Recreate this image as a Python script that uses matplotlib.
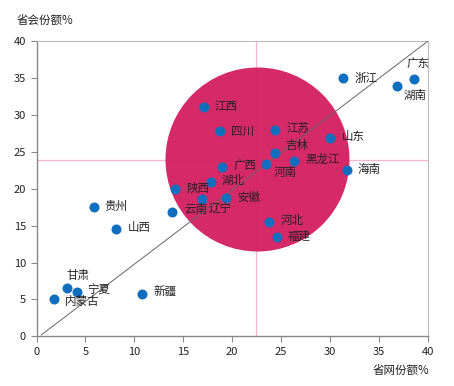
import matplotlib
matplotlib.use("Agg")
import matplotlib.pyplot as plt

plt.rcParams['font.family'] = ['Noto Sans CJK SC', 'DejaVu Sans']

provinces = ['广东', '湖南', '浙江', '江西', '四川', '江苏', '吉林', '河南', '黑龙江', '山东',
             '海南', '广西', '湖北', '陕西', '辽宁', '安徽', '云南', '河北', '福建', '贵州',
             '山西', '甘肃', '宁夏', '内蒙古', '新疆']
net_share = [38.6, 36.9, 31.3, 17.1, 18.8, 24.4, 24.4, 23.5, 26.3, 30.0,
             31.7, 19.0, 17.8, 14.2, 16.9, 19.4, 13.9, 23.8, 24.6, 5.85,
             8.1, 3.1, 4.1, 1.8, 10.8]
capital_share = [34.9, 34.0, 35.0, 31.1, 27.8, 27.95, 24.8, 23.4, 23.8, 26.9,
                 22.5, 22.9, 20.9, 20.0, 18.6, 18.7, 16.8, 15.5, 13.4, 17.5,
                 14.6, 6.6, 6.0, 5.1, 5.8]
# label offsets (pixels: right, up)
label_dx = [-7, 6, 12, 11, 11, 11, 10, 7, 12, 12, 11, 11, 11, 11, 7, 11, 12, 11, 11, 11, 12, 0, 11, 11, 11]
label_dy = [15, -10, 0, 0, 0, 2, 8, -9, 1, 1, 1, 2, 2, 0, -9, 1, 3, 1, 1, 1, 1, 12, 3, -3, 2]

mean_x = 22.4
mean_y = 23.9
bubble_x = [22.5]
bubble_y = [24.1]

fig = plt.figure(figsize=(4.54, 3.86), dpi=100)
ax = fig.add_axes([36.5 / 454, 1 - 336.3 / 386, (427.7 - 36.5) / 454, (336.3 - 41.3) / 386])
ax.set_xlim(0, 40)
ax.set_ylim(0, 40)

ax.axvline(mean_x, color='#F7B3D0', lw=0.9, zorder=1)
ax.axhline(mean_y, color='#F7B3D0', lw=0.9, zorder=1)

r_px = 92
ax.scatter(bubble_x, bubble_y, s=(2 * r_px * 0.72) ** 2, color='#D52262', alpha=0.97,
           zorder=2, linewidths=0)

ax.plot([0.5, 40], [0.2, 40], color='#666666', lw=0.7, zorder=3)

ax.scatter(net_share, capital_share, s=(10 * 0.72) ** 2, color='#0F6FBE', zorder=4, linewidths=0)

for name, x, y, dx, dy in zip(provinces, net_share, capital_share, label_dx, label_dy):
    ax.annotate(name, (x, y), xytext=(dx * 0.72, dy * 0.72), textcoords='offset points',
                ha='left', va='center', fontsize=8.3, color='#222222', zorder=5)

ax.set_xticks(range(0, 41, 5))
ax.set_yticks(range(0, 41, 5))
for s in ['left', 'bottom']:
    ax.spines[s].set_color('#888888')
    ax.spines[s].set_linewidth(1.0)
for s in ['top', 'right']:
    ax.spines[s].set_color('#BBBBBB')
    ax.spines[s].set_linewidth(0.8)
ax.tick_params(axis='both', colors='#888888', labelcolor='#222222', labelsize=8, length=4, width=0.8)

fig.text(17 / 454, 1 - 20 / 386, '省会份额%', fontsize=8.3, ha='left', va='center', color='#222222')
fig.text(429 / 454, 1 - 370 / 386, '省网份额%', fontsize=8.3, ha='right', va='center', color='#222222')

fig.savefig('out.png', dpi=100)
